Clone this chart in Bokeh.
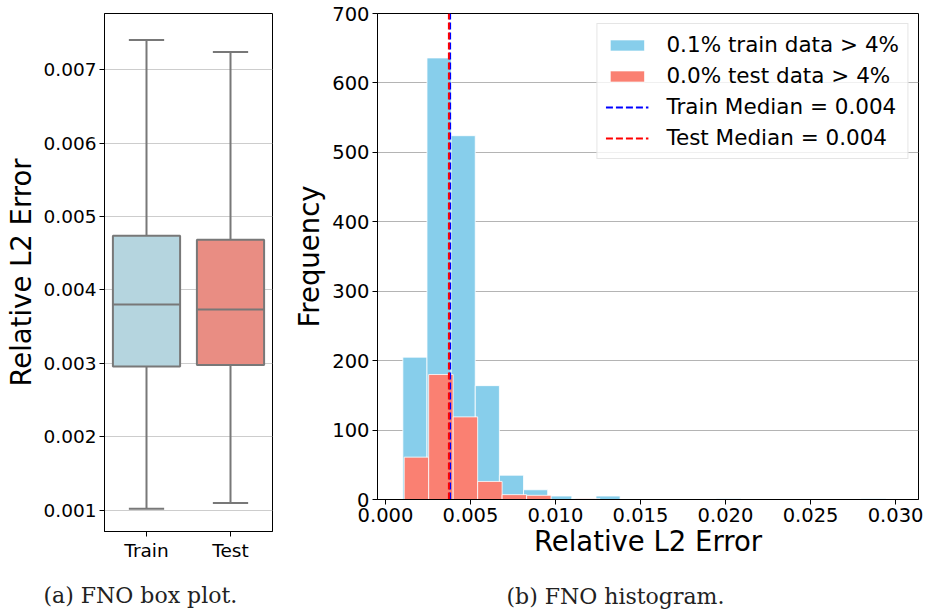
from bokeh.plotting import figure
from bokeh.models import (ColumnDataSource, Range1d, FixedTicker, NumeralTickFormatter,
                          Legend, LegendItem, Title)
from bokeh.layouts import row
from bokeh.embed import file_html
from bokeh.resources import INLINE

# ---------------- Box plot data ----------------
groups = ["Train", "Test"]
box_pos = [0, 1]
q1 = [0.002956, 0.002975]
med = [0.003801, 0.003733]
q3 = [0.004737, 0.004683]
whisk_lo = [0.001018, 0.001095]
whisk_hi = [0.007403, 0.007240]
box_colors = ["#b5d5df", "#e98d83"]
box_ticks = [0.001, 0.002, 0.003, 0.004, 0.005, 0.006, 0.007]

# ---------------- Histogram data ----------------
train_edges = [0.00102, 0.00244, 0.00386, 0.00528, 0.00670, 0.00812, 0.00954,
               0.01096, 0.01238, 0.01380, 0.01522, 0.01664, 0.01806, 0.01948,
               0.02090, 0.02232, 0.02374, 0.02516, 0.02658, 0.02800, 0.02942]
train_counts = [205, 636, 524, 164, 35, 14, 5, 1, 5, 0, 0, 0, 0, 1, 0, 0, 0, 0, 0, 1]
test_edges = [0.00110, 0.00254, 0.00398, 0.00542, 0.00686, 0.00830, 0.00974,
              0.01118, 0.01262]
test_counts = [61, 180, 119, 26, 7, 6, 0, 1]
train_median = 0.00380
test_median = 0.00373
hist_xticks = [0.000, 0.005, 0.010, 0.015, 0.020, 0.025, 0.030]
hist_yticks = [0, 100, 200, 300, 400, 500, 600, 700]
legend_labels = ["0.1% train data > 4%", "0.0% test data > 4%",
                 "Train Median = 0.004", "Test Median = 0.004"]
captions = ["(a) FNO box plot.", "(b) FNO histogram."]

FONT = "DejaVu Sans"
EDGE = "#787878"

# ================= Left: box plot =================
p1 = figure(title=None, frame_width=168, frame_height=518, min_border_left=104, min_border_right=18,
            min_border_top=13, min_border_bottom=83,
            x_range=Range1d(-0.5, 1.5), y_range=Range1d(0.000708, 0.007765),
            output_backend="svg", toolbar_location=None)

src_box = ColumnDataSource(dict(
    x=box_pos, q1=q1, med=med, q3=q3, lo=whisk_lo, hi=whisk_hi, color=box_colors,
    cap_l=[b - 0.21 for b in box_pos], cap_r=[b + 0.21 for b in box_pos],
    box_l=[b - 0.4 for b in box_pos], box_r=[b + 0.4 for b in box_pos]))

p1.segment(x0="x", y0="q3", x1="x", y1="hi", source=src_box, line_color=EDGE, line_width=2)
p1.segment(x0="x", y0="q1", x1="x", y1="lo", source=src_box, line_color=EDGE, line_width=2)
p1.segment(x0="cap_l", y0="hi", x1="cap_r", y1="hi", source=src_box, line_color=EDGE, line_width=2)
p1.segment(x0="cap_l", y0="lo", x1="cap_r", y1="lo", source=src_box, line_color=EDGE, line_width=2)
p1.quad(left="box_l", right="box_r", bottom="q1", top="q3", source=src_box,
        fill_color="color", line_color=EDGE, line_width=2)
p1.segment(x0="box_l", y0="med", x1="box_r", y1="med", source=src_box, line_color=EDGE, line_width=2)

p1.xaxis.ticker = FixedTicker(ticks=box_pos)
p1.xaxis.major_label_overrides = {0: groups[0], 1: groups[1]}
p1.yaxis.ticker = FixedTicker(ticks=box_ticks)
p1.yaxis.formatter = NumeralTickFormatter(format="0.000")
p1.yaxis.axis_label = "Relative L2 Error"
p1.xgrid.grid_line_color = None
p1.ygrid.grid_line_color = "#cdcdcd"
p1.ygrid.grid_line_width = 1
p1.xaxis.major_label_text_font_size = "18.5px"
p1.yaxis.major_label_text_font_size = "18.5px"
p1.yaxis.axis_label_standoff = 4

# ================= Right: histogram =================
p2 = figure(title=None, frame_width=541, frame_height=486, min_border_left=77, min_border_right=7,
            min_border_top=13, min_border_bottom=115,
            x_range=Range1d(-0.00047, 0.03135), y_range=Range1d(0, 700),
            output_backend="svg", toolbar_location=None)

src_train = ColumnDataSource(dict(left=train_edges[:-1], right=train_edges[1:], top=train_counts))
src_test = ColumnDataSource(dict(left=test_edges[:-1], right=test_edges[1:], top=test_counts))

r_train = p2.quad(left="left", right="right", top="top", bottom=0, source=src_train,
                  fill_color="#87CEEB", line_color="white", line_width=1, line_alpha=0.8)
r_test = p2.quad(left="left", right="right", top="top", bottom=0, source=src_test,
                 fill_color="#FA8072", line_color="white", line_width=1, line_alpha=0.8)

y0, y1 = p2.y_range.start, p2.y_range.end
r_trm = p2.line(x=[train_median, train_median], y=[y0, y1], line_color="blue",
                line_width=2, line_dash="7 3")
r_tem = p2.line(x=[test_median, test_median], y=[y0, y1], line_color="red",
                line_width=2, line_dash="7 3")

legend = Legend(items=[LegendItem(label=legend_labels[0], renderers=[r_train]),
                       LegendItem(label=legend_labels[1], renderers=[r_test]),
                       LegendItem(label=legend_labels[2], renderers=[r_trm]),
                       LegendItem(label=legend_labels[3], renderers=[r_tem])],
                location="top_right")
legend.label_text_font = FONT
legend.label_text_font_size = "21.5px"
legend.label_text_color = "black"
legend.glyph_width = 43
legend.glyph_height = 14
legend.label_standoff = 18
legend.spacing = 6
legend.padding = 8
legend.margin = 10
legend.border_line_color = "#cccccc"
legend.border_line_width = 1
legend.background_fill_alpha = 0.8
p2.add_layout(legend, "center")

p2.xaxis.ticker = FixedTicker(ticks=hist_xticks)
p2.xaxis.formatter = NumeralTickFormatter(format="0.000")
p2.yaxis.ticker = FixedTicker(ticks=hist_yticks)
p2.xaxis.axis_label = "Relative L2 Error"
p2.yaxis.axis_label = "Frequency"
p2.xgrid.grid_line_color = None
p2.ygrid.grid_line_color = "#b4b4b4"
p2.ygrid.grid_line_width = 1
p2.xaxis.major_label_text_font_size = "19.5px"
p2.yaxis.major_label_text_font_size = "19.5px"
p2.xaxis.axis_label_standoff = 0
p2.yaxis.axis_label_standoff = 4

for p in (p1, p2):
    p.outline_line_color = "black"
    p.outline_line_width = 1
    p.outline_line_alpha = 1
    p.background_fill_color = "white"
    p.border_fill_color = "white"
    for ax in (p.xaxis, p.yaxis):
        ax.axis_line_color = "black"
        ax.major_tick_line_color = "black"
        ax.major_tick_out = 5
        ax.major_tick_in = 0
        ax.minor_tick_line_color = None
        ax.major_label_standoff = 3
        ax.major_label_text_font = FONT
        ax.major_label_text_color = "black"
        ax.axis_label_text_font = FONT
        ax.axis_label_text_font_style = "normal"
        ax.axis_label_text_font_size = "27.5px"
        ax.axis_label_text_color = "black"

# captions (below the x axes)
p1.add_layout(Title(text=captions[0], align="left", offset=-61, standoff=35,
                    text_font="DejaVu Serif", text_font_size="22px",
                    text_font_style="normal", text_color="#222222"), "below")
p2.add_layout(Title(text=captions[1], align="left", offset=129, standoff=45,
                    text_font="DejaVu Serif", text_font_size="22px",
                    text_font_style="normal", text_color="#222222"), "below")

layout = row(p1, p2)
open("out.html", "w").write(file_html(layout, INLINE))
